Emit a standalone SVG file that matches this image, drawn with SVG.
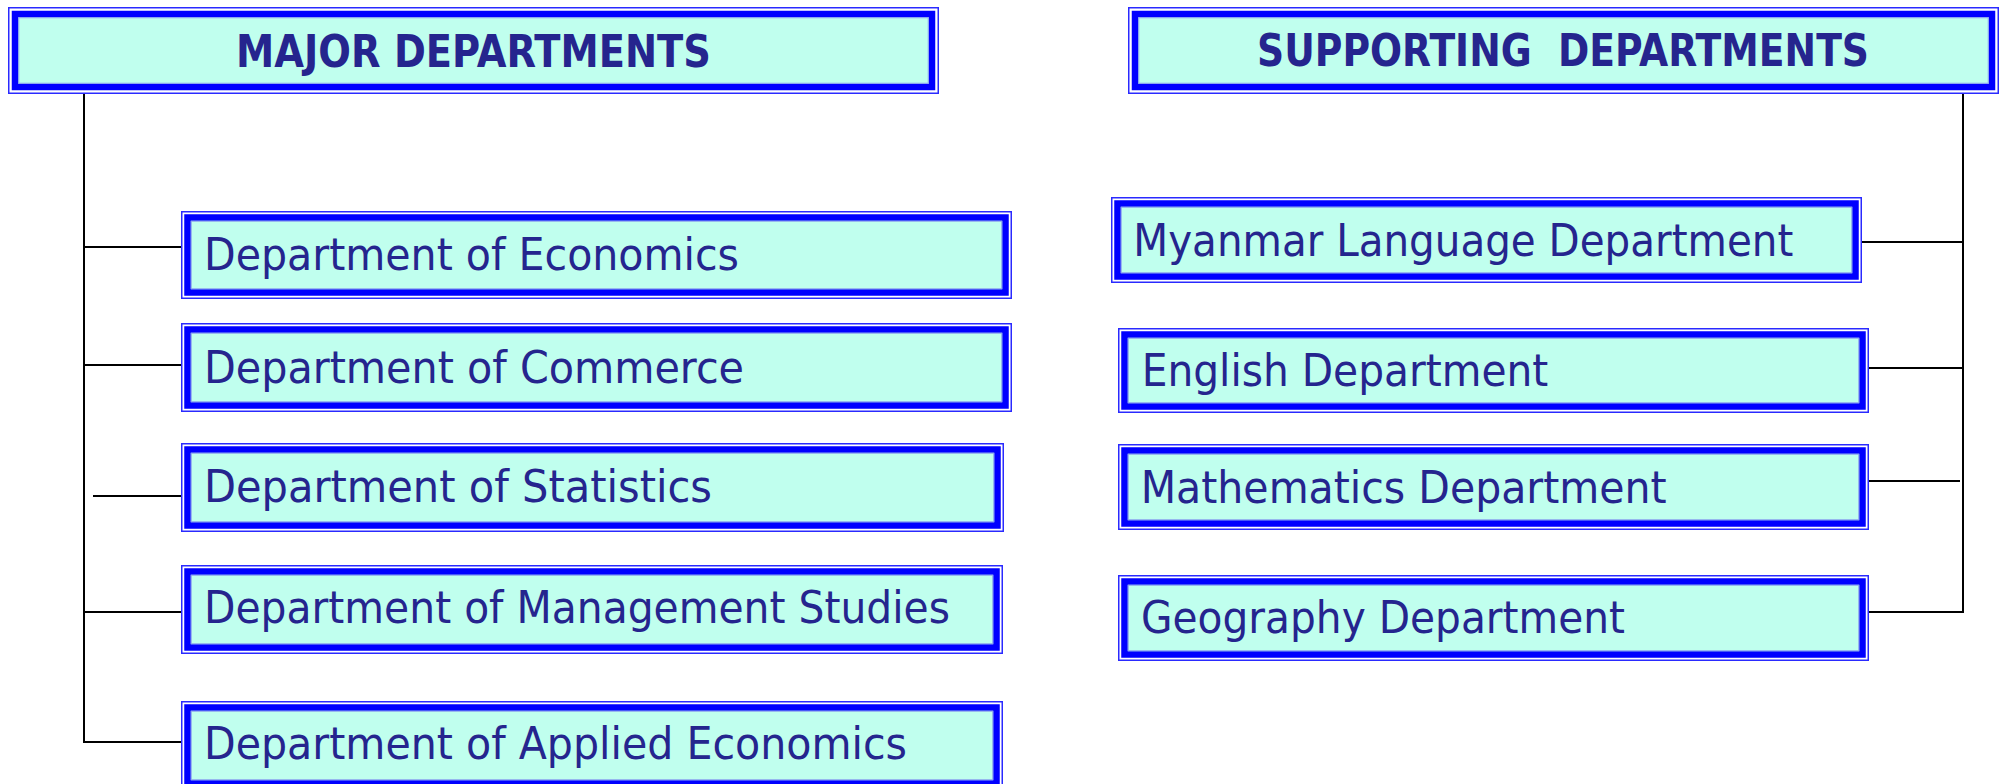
<svg xmlns="http://www.w3.org/2000/svg" width="2006" height="784" viewBox="0 0 2006 784">
<style>
.o{fill:#ffffff;stroke:#2a2aff;stroke-width:1.5}
.t{fill:#c0ffee;stroke:#0000ff;stroke-width:6.5}
.i{fill:none;stroke:#8aa0ee;stroke-width:1}
.lbl{font-family:"DejaVu Sans","Liberation Sans",sans-serif;font-size:45px;fill:#25258e}
.hdr{font-family:"DejaVu Sans","Liberation Sans",sans-serif;font-size:45px;font-weight:bold;fill:#25258e}
.c{stroke:#000000;stroke-width:2;fill:none}
</style>
<rect width="2006" height="784" fill="#ffffff"/>
<g id="connectors">
<line class="c" x1="84" y1="94" x2="84" y2="743"/>
<line class="c" x1="84" y1="247" x2="181" y2="247"/>
<line class="c" x1="84" y1="365" x2="181" y2="365"/>
<line class="c" x1="93" y1="496" x2="181" y2="496"/>
<line class="c" x1="84" y1="612" x2="181" y2="612"/>
<line class="c" x1="83" y1="742" x2="181" y2="742"/>
<line class="c" x1="1963" y1="94" x2="1963" y2="613"/>
<line class="c" x1="1862" y1="242" x2="1963" y2="242"/>
<line class="c" x1="1864" y1="368" x2="1963" y2="368"/>
<line class="c" x1="1860" y1="481" x2="1960" y2="481"/>
<line class="c" x1="1864" y1="612" x2="1964" y2="612"/>
</g>
<g id="major">
<rect class="o" x="8.75" y="7.75" width="929.5" height="85.5"/>
<rect class="t" x="15" y="14" width="917" height="73"/>
<rect class="i" x="18.75" y="17.75" width="909.5" height="65.5"/>
<text class="hdr" x="236" y="66.7" textLength="475" lengthAdjust="spacingAndGlyphs">MAJOR DEPARTMENTS</text>
</g>
<g id="supporting">
<rect class="o" x="1128.75" y="7.75" width="869.5" height="85.5"/>
<rect class="t" x="1135" y="14" width="857" height="73"/>
<rect class="i" x="1138.75" y="17.75" width="849.5" height="65.5"/>
<text class="hdr" x="1257" y="65.7" textLength="612" lengthAdjust="spacingAndGlyphs" xml:space="preserve">SUPPORTING  DEPARTMENTS</text>
</g>
<g id="economics">
<rect class="o" x="181.75" y="211.75" width="829.5" height="86.5"/>
<rect class="t" x="187.5" y="217.5" width="818" height="75"/>
<rect class="i" x="191.25" y="221.25" width="810.5" height="67.5"/>
<text class="lbl" x="204" y="270" textLength="535" lengthAdjust="spacingAndGlyphs">Department of Economics</text>
</g>
<g id="commerce">
<rect class="o" x="181.75" y="323.75" width="829.5" height="87.5"/>
<rect class="t" x="187.5" y="329.5" width="818" height="76"/>
<rect class="i" x="191.25" y="333.25" width="810.5" height="68.5"/>
<text class="lbl" x="204" y="382.7" textLength="540" lengthAdjust="spacingAndGlyphs">Department of Commerce</text>
</g>
<g id="statistics">
<rect class="o" x="181.75" y="443.75" width="821.5" height="87.5"/>
<rect class="t" x="187.5" y="449.5" width="810" height="76"/>
<rect class="i" x="191.25" y="453.25" width="802.5" height="68.5"/>
<text class="lbl" x="204" y="501.7" textLength="508" lengthAdjust="spacingAndGlyphs">Department of Statistics</text>
</g>
<g id="management">
<rect class="o" x="181.75" y="565.75" width="820.5" height="87.5"/>
<rect class="t" x="187.5" y="571.5" width="809" height="76"/>
<rect class="i" x="191.25" y="575.25" width="801.5" height="68.5"/>
<text class="lbl" x="204" y="623.3" textLength="746" lengthAdjust="spacingAndGlyphs">Department of Management Studies</text>
</g>
<g id="applied">
<rect class="o" x="181.75" y="701.75" width="820.5" height="87.5"/>
<rect class="t" x="187.5" y="707.5" width="809" height="76"/>
<rect class="i" x="191.25" y="711.25" width="801.5" height="68.5"/>
<text class="lbl" x="204" y="759.3" textLength="703" lengthAdjust="spacingAndGlyphs">Department of Applied Economics</text>
</g>
<g id="myanmar">
<rect class="o" x="1111.75" y="197.75" width="749.5" height="84.5"/>
<rect class="t" x="1117.5" y="203.5" width="738" height="73"/>
<rect class="i" x="1121.25" y="207.25" width="730.5" height="65.5"/>
<text class="lbl" x="1133.3" y="255.5" textLength="660" lengthAdjust="spacingAndGlyphs">Myanmar Language Department</text>
</g>
<g id="english">
<rect class="o" x="1118.75" y="328.75" width="749.5" height="83.5"/>
<rect class="t" x="1124.5" y="334.5" width="738" height="72"/>
<rect class="i" x="1128.25" y="338.25" width="730.5" height="64.5"/>
<text class="lbl" x="1141.7" y="385.5" textLength="406.6" lengthAdjust="spacingAndGlyphs">English Department</text>
</g>
<g id="mathematics">
<rect class="o" x="1118.75" y="444.75" width="749.5" height="84.5"/>
<rect class="t" x="1124.5" y="450.5" width="738" height="73"/>
<rect class="i" x="1128.25" y="454.25" width="730.5" height="65.5"/>
<text class="lbl" x="1140.7" y="502.5" textLength="526" lengthAdjust="spacingAndGlyphs">Mathematics Department</text>
</g>
<g id="geography">
<rect class="o" x="1118.75" y="575.75" width="749.5" height="84.5"/>
<rect class="t" x="1124.5" y="581.5" width="738" height="73"/>
<rect class="i" x="1128.25" y="585.25" width="730.5" height="65.5"/>
<text class="lbl" x="1141" y="633.3" textLength="484" lengthAdjust="spacingAndGlyphs">Geography Department</text>
</g>
</svg>
